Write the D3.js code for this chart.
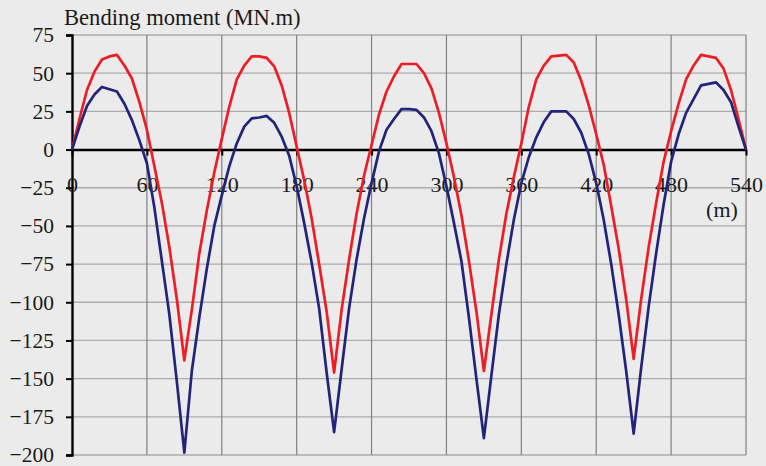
<!DOCTYPE html>
<html><head><meta charset="utf-8">
<script src="https://cdn.jsdelivr.net/npm/d3@7"></script>
<style>
html,body{margin:0;padding:0;background:#ebebeb;}
svg{display:block;}
svg text{font-family:'Liberation Serif','Times New Roman','DejaVu Serif',serif !important;fill:#1a1a1a;}
</style></head>
<body>
<svg id="c" width="766" height="466"></svg>
<script>
// Data (m positions along the girder)
const positions = [0,6,12,18,24,30,36,42,48,54,60,66,72,78,84,90,
 96,102,108,114,120,126,132,138,144,150,156,162,168,174,180,186,192,198,204,210,
 216,222,228,234,240,246,252,258,264,270,276,282,288,294,300,306,312,318,324,330,
 336,342,348,354,360,366,372,378,384,390,396,402,408,414,420,426,432,438,444,450,
 456,462,468,474,480,486,492,498,504,510,516,522,528,534,540];
const redMoment = [0,20,39,51,59,61,62,55,46.5,31,13,-11,-35,-64,-98,-138,
 -105,-68,-40,-15,7,28,46,55,61,61,60,54.5,42,24,2,-20,-45,-75,-106,-146,
 -105,-72,-42,-17,3,23,38,48,56,56,56,50,40,24,4,-18,-43,-73,-106,-145,
 -108,-72,-42,-18,4,28,46,55,61,61.5,62,57,45,29,10,-10,-37,-65,-98,-137,
 -98,-64,-35,-8,12,30,46,55,62,61,60,53,39,20,0];
const blueMoment = [0,15,28.5,36,41,39.5,38,30,19.3,6,-9,-38,-73,-108,-152,-198.5,
 -145,-110,-78,-50,-30,-11,4,15,20.4,21,22,17.5,8.4,-4,-24,-48,-74,-104,-146,-185,
 -144,-104,-72,-45,-22,-1,13,20,26.5,26.5,26,21,12,-2.5,-24,-48,-73,-110,-150,-189,
 -148,-108,-75,-46,-22,-5,8,18,25,25,25,20,11,-3,-22,-46,-75,-108,-145,-186,
 -143,-103,-68,-36,-8,10,24,33,42,43,44,39,31,15,0];
const xTicks = [0,60,120,180,240,300,360,420,480,540];
const yTicks = [75,50,25,0,-25,-50,-75,-100,-125,-150,-175,-200];
const titleText = "Bending moment (MN.m)";
const unitText = "(m)";

const svg = d3.select("#c");
const L = 72, R = 746, T = 35, B = 455;
const x = d3.scaleLinear().domain([0,540]).range([L,R]);
const y = d3.scaleLinear().domain([-200,75]).range([B,T]);
const FONT = "'Liberation Serif','Times New Roman',serif";

// horizontal gridlines
svg.append("g").selectAll("line").data(yTicks.filter(d=>d!==0)).join("line")
  .attr("x1",L).attr("x2",R).attr("y1",d=>y(d)).attr("y2",d=>y(d))
  .attr("stroke","#ababab").attr("stroke-width",1.3);
// vertical gridlines
svg.append("g").selectAll("line").data(xTicks.filter(d=>d>0)).join("line")
  .attr("x1",d=>x(d)).attr("x2",d=>x(d)).attr("y1",T).attr("y2",B)
  .attr("stroke","#808080").attr("stroke-width",1.2);

// y axis
const yAxis = svg.append("g").attr("transform",`translate(${L},0)`)
  .call(d3.axisLeft(y).tickValues(yTicks).tickSize(6).tickPadding(12));
yAxis.attr("font-family",FONT);
yAxis.select(".domain").attr("stroke","#000").attr("stroke-width",2.4);
yAxis.selectAll(".tick line").attr("stroke","#000").attr("stroke-width",2);
yAxis.selectAll(".tick text").attr("font-size",21.5).attr("fill","#1a1a1a")
  .style("font-family",FONT);

// x axis at zero
const xAxis = svg.append("g").attr("transform",`translate(0,${y(0)})`)
  .call(d3.axisBottom(x).tickValues(xTicks).tickSize(6).tickSizeOuter(0).tickPadding(21));
xAxis.attr("font-family",FONT);
xAxis.select(".domain").attr("stroke","#000").attr("stroke-width",2.6);
xAxis.selectAll(".tick line").attr("stroke","#000").attr("stroke-width",2);
xAxis.selectAll(".tick text").attr("font-size",22).attr("fill","#1a1a1a")
  .style("font-family",FONT);

// series
const line = d3.line().x((d,i)=>x(positions[i])).y(d=>y(d));
svg.append("path").datum(redMoment).attr("d",line)
  .attr("fill","none").attr("stroke","#ee1c25").attr("stroke-width",2.7).attr("stroke-linejoin","round");
svg.append("path").datum(blueMoment).attr("d",line)
  .attr("fill","none").attr("stroke","#23237a").attr("stroke-width",2.7).attr("stroke-linejoin","round");

// titles
svg.append("text").attr("x",64).attr("y",25).attr("font-size",22.6).style("font-family",FONT).text(titleText);
svg.append("text").attr("x",722).attr("y",217).attr("text-anchor","middle").attr("font-size",22).style("font-family",FONT).text(unitText);
</script>
</body></html>
